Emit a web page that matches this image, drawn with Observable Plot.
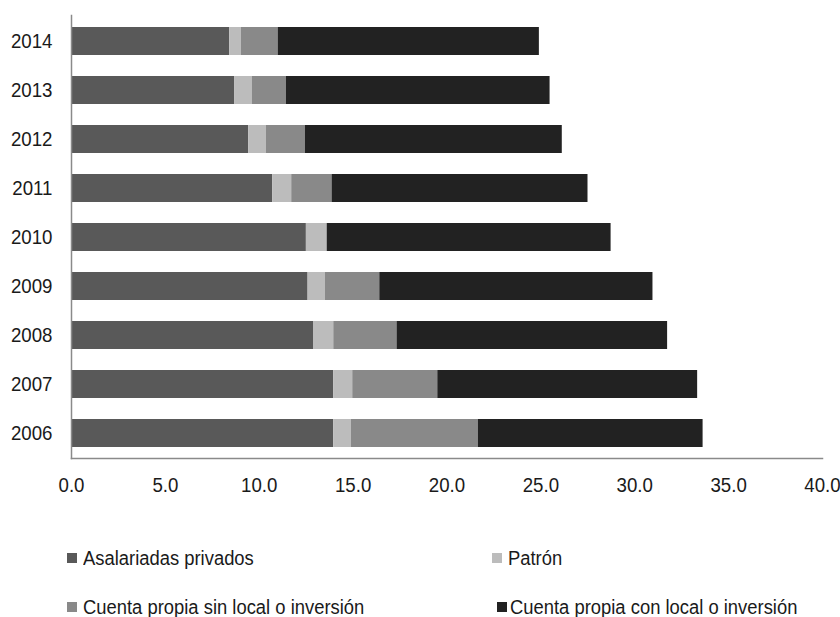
<!DOCTYPE html>
<html>
<head>
<meta charset="utf-8">
<script src="https://cdn.jsdelivr.net/npm/d3@7"></script>
<script src="https://cdn.jsdelivr.net/npm/@observablehq/plot@0.6"></script>
<style>
  html, body { margin: 0; padding: 0; background: #fff; }
  body { width: 840px; height: 617px; overflow: hidden; font-family: "Liberation Sans", Arial, sans-serif; }
  #legend { position: relative; width: 840px; height: 107px; }
  .sw { position: absolute; width: 10px; height: 10px; }
  .lab { position: absolute; font-size: 20px; line-height: 20px; height: 20px; color: #1a1a1a; white-space: nowrap; transform: scaleX(0.92); transform-origin: 0 50%; }
</style>
</head>
<body>
<div id="chart"></div>
<div id="legend"></div>
<script>
const years = ["2014", "2013", "2012", "2011", "2010", "2009", "2008", "2007", "2006"];
const seriesNames = [
  "Asalariadas privados",
  "Patrón",
  "Cuenta propia sin local o inversión",
  "Cuenta propia con local o inversión"
];
const asalariados = [8.43, 8.70, 9.44, 10.72, 12.51, 12.60, 12.89, 13.97, 13.97];
const patron      = [0.62, 0.94, 0.94, 1.01, 1.11, 0.92, 1.08, 1.01, 0.94];
const sinLocal    = [1.96, 1.81, 2.08, 2.15, 0.00, 2.90, 3.37, 4.53, 6.76];
const conLocal    = [13.91, 14.04, 13.68, 13.63, 15.12, 14.55, 14.41, 13.84, 11.97];
const xTicks = [0, 5, 10, 15, 20, 25, 30, 35, 40];
const colors = ["#595959", "#bcbcbc", "#898989", "#222222"];

const seriesValues = [asalariados, patron, sinLocal, conLocal];
const rows = [];
years.forEach((year, i) => {
  seriesNames.forEach((s, j) => {
    rows.push({ year, series: s, value: seriesValues[j][i] });
  });
});

const chart = Plot.plot({
  width: 840,
  height: 510,
  marginTop: 15,
  marginBottom: 52,
  marginLeft: 71,
  marginRight: 18,
  style: { fontFamily: '"Liberation Sans", Arial, sans-serif', fontSize: "21px", color: "#1a1a1a", background: "#fff" },
  x: { domain: [0, 40], ticks: xTicks, tickFormat: d3.format(".1f"), label: null },
  y: { domain: years, paddingInner: 0.43, paddingOuter: 0.215, label: null },
  color: { domain: seriesNames, range: colors },
  marks: [
    Plot.barX(rows, Plot.stackX({ x: "value", y: "year", fill: "series", order: null })),
    Plot.frame({ anchor: "left", stroke: "#8a8a8a", strokeWidth: 1.5 }),
    Plot.frame({ anchor: "bottom", stroke: "#8a8a8a", strokeWidth: 1.5 }),
    Plot.axisX({ ticks: xTicks, tickSize: 0, tickPadding: 19, tickFormat: d3.format(".1f"), fontSize: 21, label: null }),
    Plot.axisY({ tickSize: 0, tickPadding: 19, fontSize: 21, label: null })
  ]
});
document.getElementById("chart").appendChild(chart);

// Condense the SVG text horizontally (the reference uses a narrow face)
d3.select(chart).selectAll("text").each(function () {
  const t = d3.select(this);
  const tr = t.attr("transform");
  const x = +(t.attr("x") || 0), y = +(t.attr("y") || 0);
  let base = tr ? tr : "";
  if (x || y) {
    base = (base ? base + " " : "") + `translate(${x},${y})`;
    t.attr("x", null).attr("y", null);
  }
  t.attr("transform", (base ? base + " " : "") + "scale(0.89,1)");
});

// Legend (HTML, below the SVG)
const legend = document.getElementById("legend");
const items = [
  { sq: 67, tx: 83, cy: 48 },
  { sq: 492, tx: 508, cy: 48 },
  { sq: 67, tx: 83, cy: 97 },
  { sq: 497, tx: 510, cy: 97 }
];
seriesNames.forEach((name, i) => {
  const sw = document.createElement("div");
  sw.className = "sw";
  sw.style.background = colors[i];
  sw.style.left = items[i].sq + "px";
  sw.style.top = (items[i].cy - 5) + "px";
  const label = document.createElement("div");
  label.className = "lab";
  label.textContent = name;
  label.style.left = items[i].tx + "px";
  label.style.top = (items[i].cy - 10) + "px";
  legend.appendChild(sw);
  legend.appendChild(label);
});
</script>
</body>
</html>
